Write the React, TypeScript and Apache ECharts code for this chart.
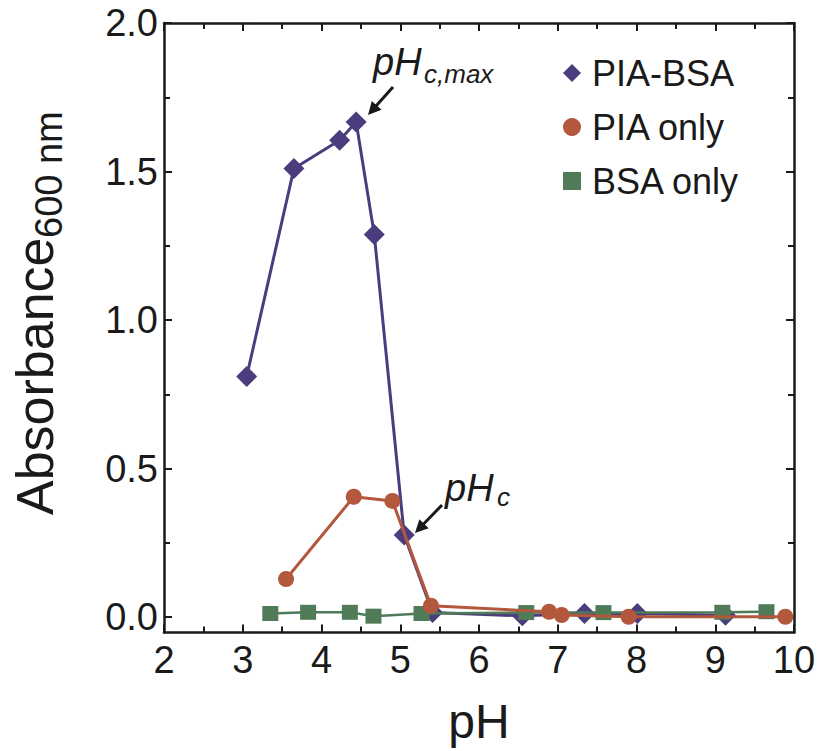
import React, { useEffect, useRef } from "react";
import * as echarts from "echarts";

// ---- data ----
const piaBsaPH = [3.05, 3.65, 4.23, 4.44, 4.67, 5.05, 5.41, 6.55, 7.34, 8.01, 9.13];
const piaBsaAbs = [0.81, 1.51, 1.605, 1.667, 1.288, 0.276, 0.015, 0.004, 0.012, 0.012, 0.006];

const piaOnlyPH = [3.55, 4.41, 4.9, 5.39, 6.89, 7.05, 7.9, 9.89];
const piaOnlyAbs = [0.128, 0.405, 0.391, 0.038, 0.018, 0.007, 0.001, 0.001];

const bsaOnlyPH = [3.35, 3.83, 4.36, 4.66, 5.27, 6.6, 7.58, 9.09, 9.65];
const bsaOnlyAbs = [0.012, 0.016, 0.016, 0.003, 0.012, 0.015, 0.015, 0.016, 0.018];

const yMajorTicks = [0, 0.5, 1.0, 1.5, 2.0];
const yMinorTicks = [0.25, 0.75, 1.25, 1.75];

const seriesNames = ["PIA-BSA", "PIA only", "BSA only"];

const FONT = "Liberation Sans, Arial, Helvetica, sans-serif";
const INK = "#1a1a1a";
const PURPLE = "#4b3d7d";
const RUST = "#b3583d";
const GREEN = "#4f7b59";

const zip = (xs: number[], ys: number[]) => xs.map((x, i) => [x, ys[i]]);

function arrow(tail: number[], tip: number[]) {
  const dx = tip[0] - tail[0];
  const dy = tip[1] - tail[1];
  const len = Math.sqrt(dx * dx + dy * dy);
  const ux = dx / len, uy = dy / len;
  const nx = -uy, ny = ux;
  const headLen = 13, headW = 6.5;
  const bx = tip[0] - ux * headLen, by = tip[1] - uy * headLen;
  return [
    {
      type: "line",
      shape: { x1: tail[0], y1: tail[1], x2: bx + ux * 2, y2: by + uy * 2 },
      style: { stroke: INK, lineWidth: 3 },
      z: 100,
    },
    {
      type: "polygon",
      shape: { points: [tip, [bx + nx * headW, by + ny * headW], [bx - nx * headW, by - ny * headW]] },
      style: { fill: INK },
      z: 100,
    },
  ];
}

function txt(text: string, x: number, y: number, size: number, opts: any = {}) {
  return {
    type: "text",
    x,
    y,
    rotation: opts.rotation || 0,
    z: 100,
    style: {
      text,
      x: 0,
      y: 0,
      fill: INK,
      fontSize: size,
      fontFamily: FONT,
      fontStyle: opts.italic ? "italic" : "normal",
      textAlign: opts.align || "left",
      textVerticalAlign: "middle",
    },
  };
}

export default function App() {
  const ref = useRef<HTMLDivElement>(null);

  useEffect(() => {
    if (!ref.current) return;
    const chart = echarts.init(ref.current, null, { renderer: "svg" });

    const axisLine = { show: true, onZero: false, lineStyle: { color: INK, width: 2.5 } };
    const noLine = { show: false, onZero: false };
    const tickStyle = { color: INK, width: 2 };

    const xBase = {
      type: "value",
      min: 2,
      max: 10,
      interval: 1,
      axisLine,
      splitLine: { show: false },
      minorSplitLine: { show: false },
      axisTick: { show: true, inside: true, length: 8, lineStyle: tickStyle },
      minorTick: { show: true, splitNumber: 2, length: 6, lineStyle: tickStyle },
    };

    const yBase = {
      type: "value",
      min: -0.052,
      max: 2.0,
      splitLine: { show: false },
    };

    const option: any = {
      animation: false,
      backgroundColor: "#ffffff",
      textStyle: { fontFamily: FONT },
      grid: { left: 164, top: 23, right: 28, bottom: 118.5, containLabel: false },
      xAxis: [
        {
          ...xBase,
          position: "bottom",
          axisLabel: { show: true, fontSize: 38, color: INK, margin: 8, fontFamily: FONT },
        },
        {
          ...xBase,
          position: "top",
          axisLabel: { show: false },
        },
      ],
      yAxis: [
        {
          ...yBase,
          position: "left",
          axisLine,
          axisTick: { show: true, inside: true, length: 8, lineStyle: tickStyle, customValues: yMajorTicks },
          axisLabel: {
            show: true,
            customValues: yMajorTicks,
            fontSize: 38,
            color: INK,
            margin: 6,
            fontFamily: FONT,
            formatter: (v: number) => v.toFixed(1),
          },
        },
        {
          ...yBase,
          position: "left",
          axisLine: noLine,
          axisTick: { show: true, inside: true, length: 6, lineStyle: tickStyle, customValues: yMinorTicks },
          axisLabel: { show: false },
        },
        {
          ...yBase,
          position: "right",
          axisLine,
          axisTick: { show: true, inside: true, length: 8, lineStyle: tickStyle, customValues: yMajorTicks },
          axisLabel: { show: false },
        },
        {
          ...yBase,
          position: "right",
          axisLine: noLine,
          axisTick: { show: true, inside: true, length: 6, lineStyle: tickStyle, customValues: yMinorTicks },
          axisLabel: { show: false },
        },
      ],
      legend: {
        orient: "vertical",
        left: 558,
        top: 50,
        itemWidth: 18,
        itemHeight: 18,
        itemGap: 18,
        selectedMode: false,
        textStyle: { fontSize: 36, color: INK, fontFamily: FONT, padding: [0, 0, 0, 6] },
        data: [
          { name: seriesNames[0], icon: "diamond" },
          { name: seriesNames[1], icon: "circle" },
          { name: seriesNames[2], icon: "rect" },
        ],
      },
      series: [
        {
          name: seriesNames[0],
          type: "line",
          data: zip(piaBsaPH, piaBsaAbs),
          symbol: "diamond",
          symbolSize: 21,
          itemStyle: { color: PURPLE },
          lineStyle: { color: PURPLE, width: 3 },
          emphasis: { disabled: true },
          z: 2,
        },
        {
          name: seriesNames[2],
          type: "line",
          data: zip(bsaOnlyPH, bsaOnlyAbs),
          symbol: "rect",
          symbolSize: [16, 15],
          itemStyle: { color: GREEN },
          lineStyle: { color: GREEN, width: 2.5 },
          emphasis: { disabled: true },
          z: 3,
        },
        {
          name: seriesNames[1],
          type: "line",
          data: zip(piaOnlyPH, piaOnlyAbs),
          symbol: "circle",
          symbolSize: 16,
          itemStyle: { color: RUST },
          lineStyle: { color: RUST, width: 3 },
          emphasis: { disabled: true },
          z: 4,
        },
      ],
      graphic: [
        // y axis title (rotated) with subscript
        txt("Absorbance", 34.5, 515, 52, { rotation: Math.PI / 2 }),
        txt("600 nm", 48.5, 238, 38, { rotation: Math.PI / 2 }),
        // x axis title
        txt("pH", 479, 721, 48, { align: "center" }),
        // annotations
        txt("pH", 373, 61.5, 38, { italic: true }),
        txt("c,max", 424, 74, 26, { italic: true }),
        ...arrow([393, 87], [368, 115]),
        txt("pH", 445, 488, 38, { italic: true }),
        txt("c", 497, 497, 26, { italic: true }),
        ...arrow([442, 505], [415, 533]),
      ],
    };

    chart.setOption(option);
    return () => chart.dispose();
  }, []);

  return (
    <div
      ref={ref}
      style={{ position: "absolute", left: 0, top: 0, width: 822, height: 751, background: "#fff" }}
    />
  );
}
